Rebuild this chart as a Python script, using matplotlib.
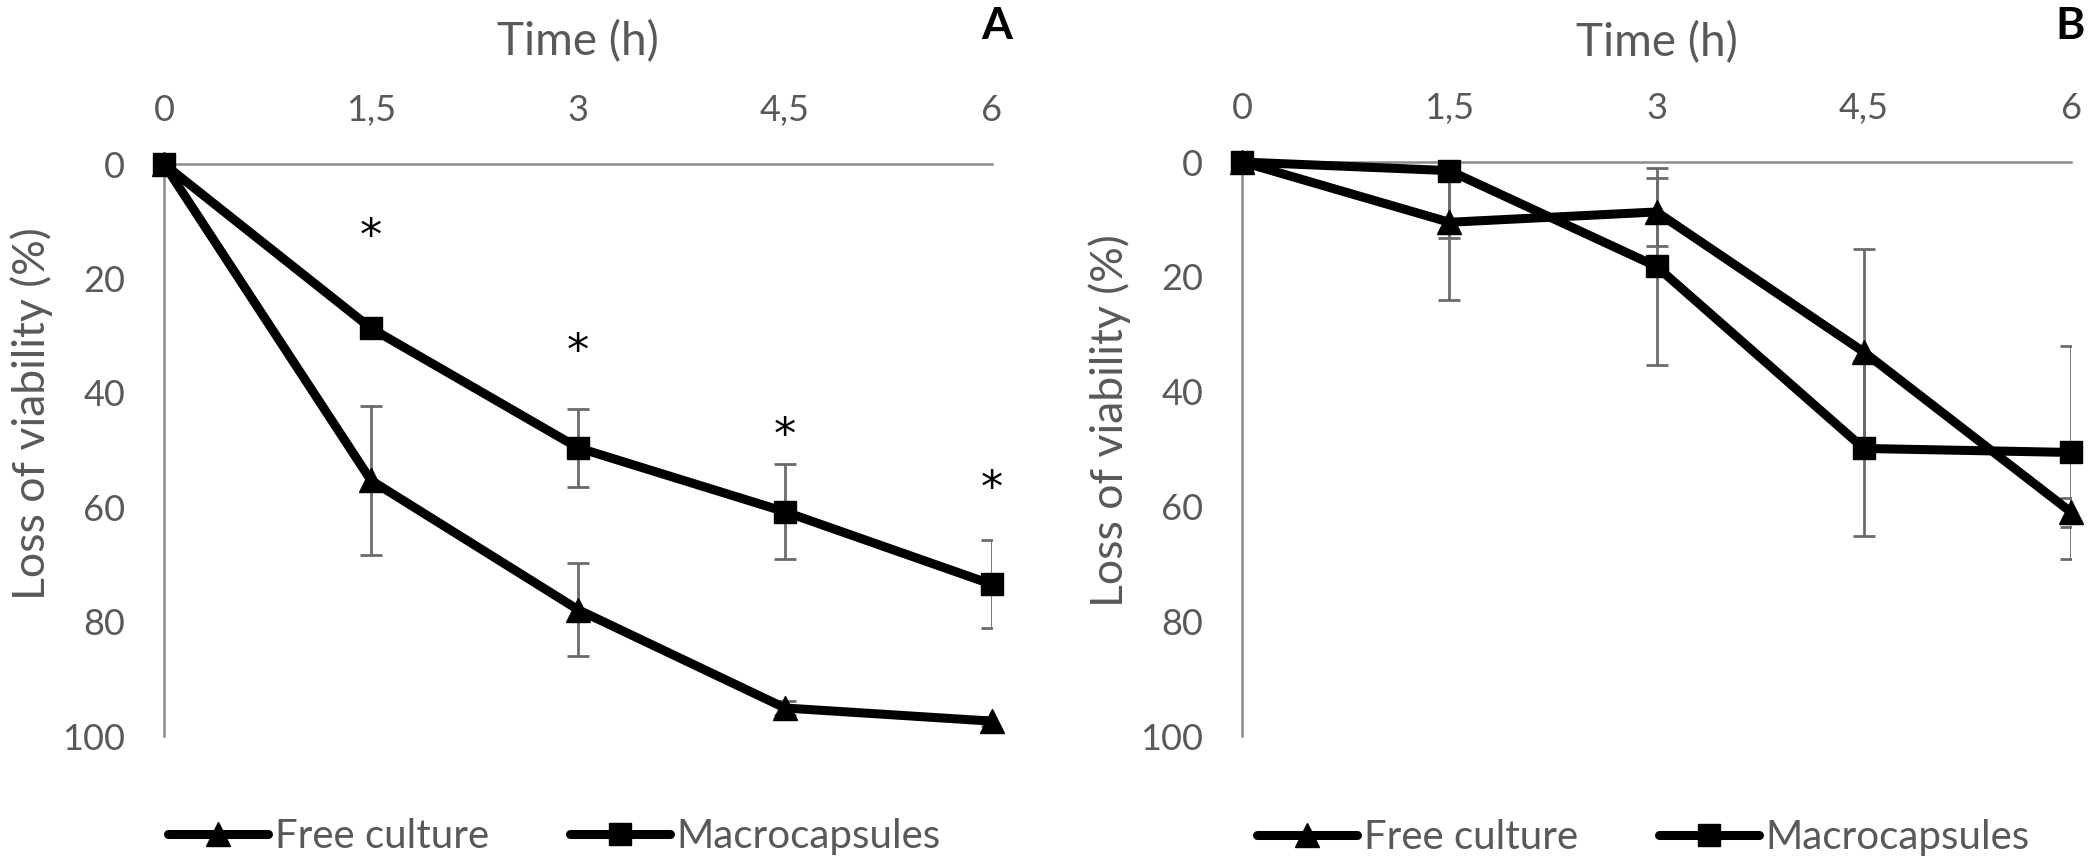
import matplotlib
matplotlib.use("Agg")
import matplotlib.pyplot as plt

# ---------------- data ----------------
time_h = [0, 1.5, 3, 4.5, 6]
time_labels = ["0", "1,5", "3", "4,5", "6"]
y_ticks = [0, 20, 40, 60, 80, 100]

# Panel A
a_free = [0, 55.3, 77.9, 95.1, 97.4]
a_free_err = [0, 13.0, 8.1, 1.2, 0.8]
a_macro = [0, 28.7, 49.6, 60.8, 73.5]
a_macro_err = [0, 1.0, 6.8, 8.3, 7.7]
a_star_x = [1.5, 3, 4.5, 6]
a_star_y = [10.4, 30.6, 45.2, 54.5]

# Panel B
b_free = [0, 10.5, 8.7, 33.1, 61.0]
b_free_err = [0, 13.6, 5.9, 18.0, 2.5]
b_macro = [0, 1.5, 18.2, 49.9, 50.6]
b_macro_err = [0, 11.7, 17.2, 15.3, 18.5]

series_names = ["Free culture", "Macrocapsules"]
panel_letters = ["A", "B"]

# ---------------- style ----------------
plt.rcParams["font.family"] = ["Lato", "DejaVu Sans"]
TXT = "#595959"
AXC = "#8c8c8c"
ERRC = "#6b6b6b"

fig = plt.figure(figsize=(20.91, 8.65), dpi=100)
axA = fig.add_axes([0.0784, 0.1491, 0.3960, 0.6613])
axB = fig.add_axes([0.5940, 0.1491, 0.3965, 0.6636])


def draw(ax, free, free_err, macro, macro_err, leg_x, xlab_y, ylab_y):
    ax.errorbar(time_h, free, yerr=free_err, fmt="none", ecolor=ERRC,
                elinewidth=2, capsize=8, capthick=2, zorder=2)
    ax.errorbar(time_h, macro, yerr=macro_err, fmt="none", ecolor=ERRC,
                elinewidth=2, capsize=8, capthick=2, zorder=2)
    ax.plot(time_h, free, color="black", lw=6.5, marker="^", ms=17,
            label=series_names[0], clip_on=False, zorder=3,
            solid_capstyle="round")
    ax.plot(time_h, macro, color="black", lw=6.5, marker="s", ms=16,
            label=series_names[1], clip_on=False, zorder=3,
            solid_capstyle="round")
    ax.set_xlim(0, 6)
    ax.set_ylim(100, 0)
    ax.xaxis.tick_top()
    ax.xaxis.set_label_position("top")
    ax.set_xticks(time_h)
    ax.set_xticklabels(time_labels)
    ax.set_yticks(y_ticks)
    ax.tick_params(axis="x", length=0, pad=27, labelsize=26, labelcolor=TXT)
    ax.tick_params(axis="y", length=0, pad=28, labelsize=26, labelcolor=TXT)
    for s in ["right", "bottom"]:
        ax.spines[s].set_visible(False)
    for s in ["top", "left"]:
        ax.spines[s].set_color(AXC)
        ax.spines[s].set_linewidth(1.8)
    ax.set_xlabel("Time (h)", fontsize=33, color=TXT)
    ax.xaxis.set_label_coords(0.5, xlab_y)
    ax.set_ylabel("Loss of viability (%)", fontsize=32, color=TXT)
    ax.yaxis.set_label_coords(-0.134, ylab_y)
    leg = ax.legend(loc="center", bbox_to_anchor=(leg_x, -0.1765), ncol=2,
                    frameon=False, fontsize=29, handlelength=2.48,
                    handletextpad=0.17, columnspacing=2.0, numpoints=1)
    for t in leg.get_texts():
        t.set_color(TXT)


draw(axA, a_free, a_free_err, a_macro, a_macro_err, 0.4716, 1.1900, 0.564)
draw(axB, b_free, b_free_err, b_macro, b_macro_err, 0.4843, 1.1840, 0.549)

STAR_FS = 32
for x, y in zip(a_star_x, a_star_y):
    axA.annotate("*", xy=(x, y), xytext=(0, -0.59 * STAR_FS),
                 textcoords="offset points", fontsize=STAR_FS,
                 family="DejaVu Sans", color="black", ha="center",
                 va="baseline", annotation_clip=False)

fig.text(0.4768, 0.9549, panel_letters[0], fontsize=32, fontweight="bold",
         color="black", ha="center", va="baseline")
fig.text(0.9900, 0.9549, panel_letters[1], fontsize=32, fontweight="bold",
         color="black", ha="center", va="baseline")

fig.savefig("out.png", dpi=100, facecolor="white")
